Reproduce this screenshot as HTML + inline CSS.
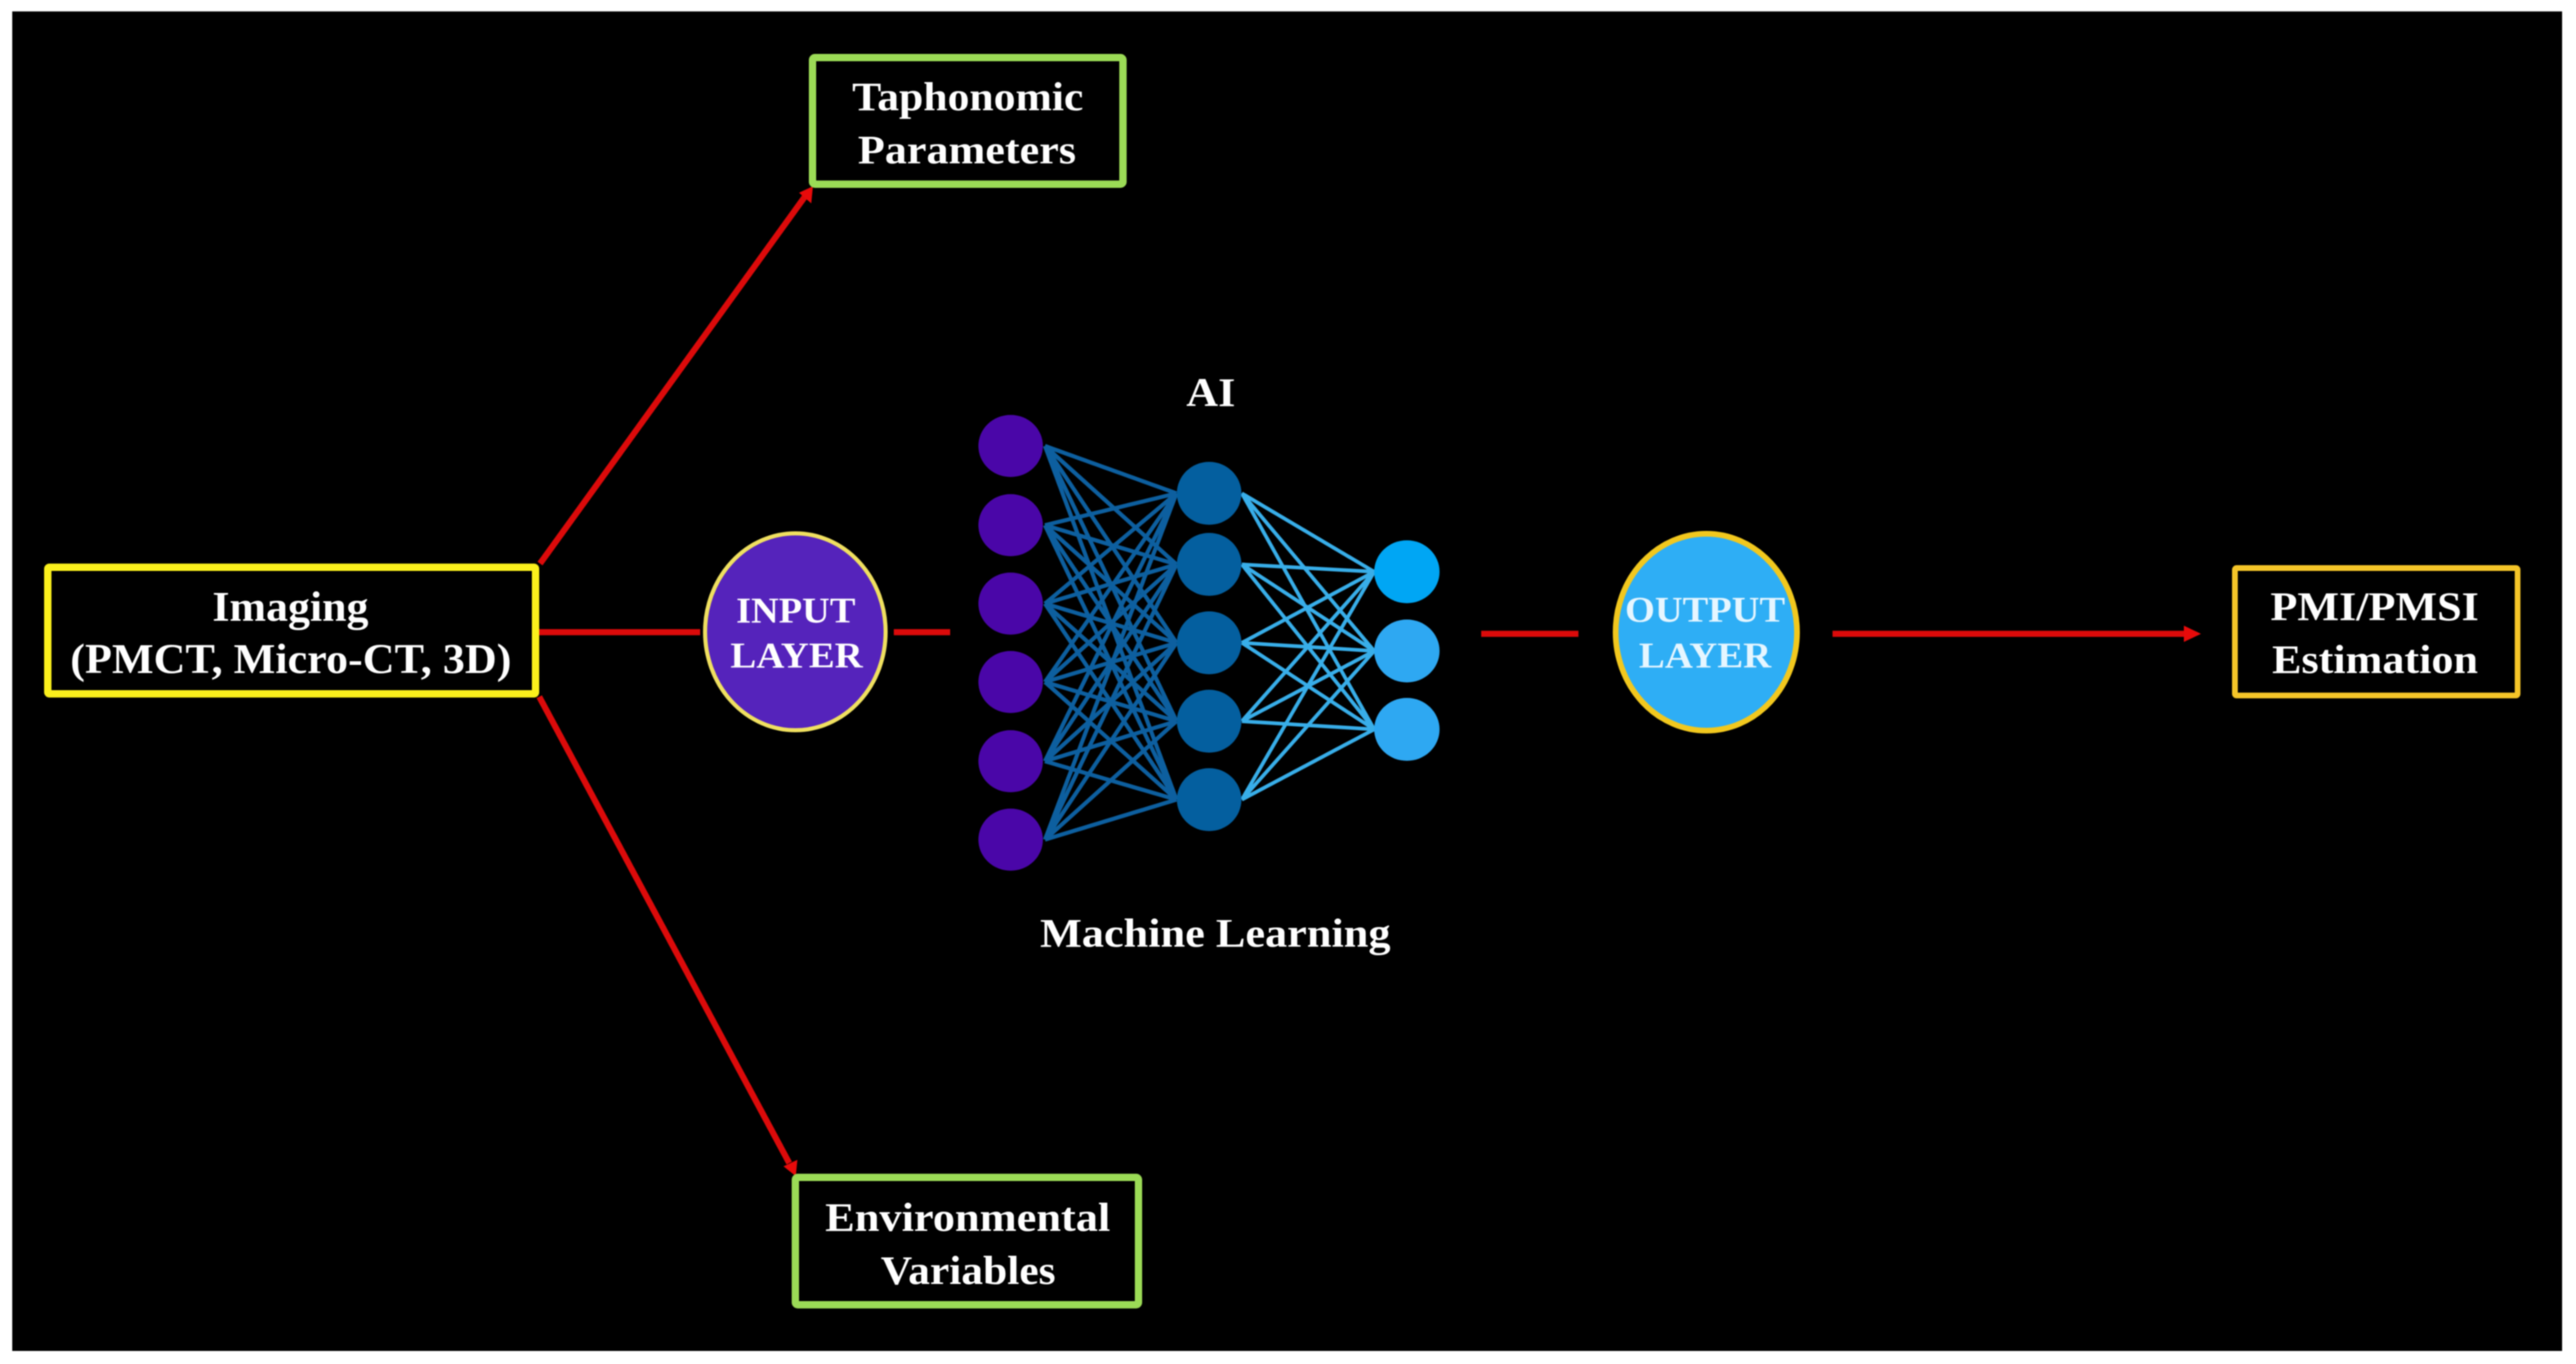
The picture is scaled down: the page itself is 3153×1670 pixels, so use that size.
<!DOCTYPE html>
<html>
<head>
<meta charset="utf-8">
<style>
html,body{margin:0;padding:0;background:#fff}
svg{display:block;filter:blur(0.8px)}
text{font-family:"Liberation Serif",serif;font-weight:bold;fill:#fff}
</style>
</head>
<body>
<svg width="3153" height="1670" viewBox="0 0 3153 1670" xmlns="http://www.w3.org/2000/svg">
<rect width="3153" height="1670" fill="#fff"/>
<rect x="15" y="14" width="3121" height="1640" fill="#000"/>

<!-- red connectors -->
<g stroke="#dc0a0a" stroke-width="7.500" fill="none">
<path d="M661 690L985 241"/>
<path d="M660 853L966 1424"/>
<path d="M660 774H857"/>
<path d="M1094 774H1163"/>
<path d="M1813 776H1932"/>
<path d="M2243 776H2680"/>
</g>
<g fill="#e80a0a">
<polygon points="995,228 993,249 978,236"/>
<polygon points="974,1440 959,1428 976,1420"/>
<polygon points="2694,776 2673,766 2673,786"/>
</g>

<!-- boxes -->
<g fill="#000">
<rect x="58.500" y="694.500" width="597" height="155" fill="#000" stroke="#fbf01c" stroke-width="9" rx="2"/>
<rect x="994.500" y="70.500" width="380" height="155" stroke="#9bdb56" stroke-width="9" rx="3"/>
<rect x="973.500" y="1441.500" width="420" height="156" stroke="#9bdb56" stroke-width="9" rx="3"/>
<rect x="2735.500" y="695.500" width="346" height="156" stroke="#f5c528" stroke-width="7" rx="2"/>
</g>

<!-- ellipses -->
<ellipse cx="973.500" cy="773.500" rx="110.500" ry="120.500" fill="#5523bb" stroke="#f0e060" stroke-width="5"/>
<ellipse cx="2088.500" cy="774" rx="111" ry="120.500" fill="#2eaef5" stroke="#f2c81e" stroke-width="7"/>

<!-- network lines -->
<path fill="none" stroke="#0d5f9f" stroke-width="5" d="
M1279 546L1440 604M1279 546L1440 691M1279 546L1440 787M1279 546L1440 883M1279 546L1440 979
M1279 643L1440 604M1279 643L1440 691M1279 643L1440 787M1279 643L1440 883M1279 643L1440 979
M1279 739L1440 604M1279 739L1440 691M1279 739L1440 787M1279 739L1440 883M1279 739L1440 979
M1279 835L1440 604M1279 835L1440 691M1279 835L1440 787M1279 835L1440 883M1279 835L1440 979
M1279 932L1440 604M1279 932L1440 691M1279 932L1440 787M1279 932L1440 883M1279 932L1440 979
M1279 1028L1440 604M1279 1028L1440 691M1279 1028L1440 787M1279 1028L1440 883M1279 1028L1440 979"/>
<path fill="none" stroke="#38aee9" stroke-width="4.500" d="
M1520 604L1682 700M1520 604L1682 797M1520 604L1682 893
M1520 691L1682 700M1520 691L1682 797M1520 691L1682 893
M1520 787L1682 700M1520 787L1682 797M1520 787L1682 893
M1520 883L1682 700M1520 883L1682 797M1520 883L1682 893
M1520 979L1682 700M1520 979L1682 797M1520 979L1682 893"/>

<!-- network nodes -->
<g fill="#4a06a8">
<ellipse cx="1237" cy="546" rx="39.500" ry="38"/>
<ellipse cx="1237" cy="643" rx="39.500" ry="38"/>
<ellipse cx="1237" cy="739" rx="39.500" ry="38"/>
<ellipse cx="1237" cy="835" rx="39.500" ry="38"/>
<ellipse cx="1237" cy="932" rx="39.500" ry="38"/>
<ellipse cx="1237" cy="1028" rx="39.500" ry="38"/>
</g>
<g fill="#045f9f">
<ellipse cx="1480" cy="604" rx="39.500" ry="38.500"/>
<ellipse cx="1480" cy="691" rx="39.500" ry="38.500"/>
<ellipse cx="1480" cy="787" rx="39.500" ry="38.500"/>
<ellipse cx="1480" cy="883" rx="39.500" ry="38.500"/>
<ellipse cx="1480" cy="979" rx="39.500" ry="38.500"/>
</g>
<ellipse cx="1722" cy="700" rx="40" ry="38.500" fill="#00a6f4"/>
<ellipse cx="1722" cy="797" rx="40" ry="38.500" fill="#2ea8f2"/>
<ellipse cx="1722" cy="893" rx="40" ry="38.500" fill="#2ea8f2"/>

<!-- labels -->
<g font-size="52">
<text x="260" y="760" textLength="191" lengthAdjust="spacingAndGlyphs">Imaging</text>
<text x="86" y="824" textLength="540" lengthAdjust="spacingAndGlyphs">(PMCT, Micro-CT, 3D)</text>
</g>
<g font-size="50">
<text x="2779" y="759" textLength="255" lengthAdjust="spacingAndGlyphs">PMI/PMSI</text>
<text x="2781" y="824" textLength="252" lengthAdjust="spacingAndGlyphs">Estimation</text>
<text x="1043" y="135" textLength="283" lengthAdjust="spacingAndGlyphs">Taphonomic</text>
<text x="1050" y="200" textLength="267" lengthAdjust="spacingAndGlyphs">Parameters</text>
<text x="1010" y="1507" textLength="349" lengthAdjust="spacingAndGlyphs">Environmental</text>
<text x="1078" y="1572" textLength="214" lengthAdjust="spacingAndGlyphs">Variables</text>
<text x="1273" y="1159" textLength="429" lengthAdjust="spacingAndGlyphs">Machine Learning</text>
<text x="1452" y="497" textLength="60" lengthAdjust="spacingAndGlyphs">AI</text>
</g>
<g font-size="44">
<text x="901" y="762" textLength="146" lengthAdjust="spacingAndGlyphs">INPUT</text>
<text x="894" y="817" textLength="162" lengthAdjust="spacingAndGlyphs">LAYER</text>
<text x="1989" y="761" textLength="196" lengthAdjust="spacingAndGlyphs" style="fill:#e6f6ff">OUTPUT</text>
<text x="2006" y="817" textLength="162" lengthAdjust="spacingAndGlyphs" style="fill:#e6f6ff">LAYER</text>
</g>
</svg>
</body>
</html>
